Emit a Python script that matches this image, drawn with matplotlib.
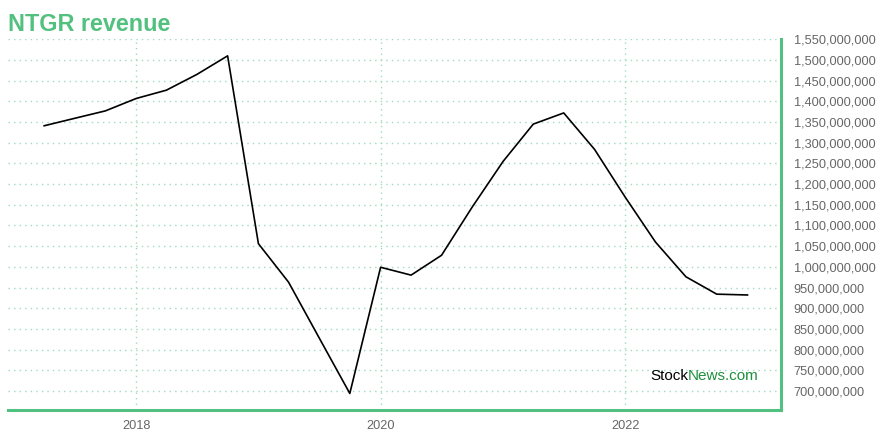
import pandas as pd
import matplotlib
matplotlib.use("Agg")
import matplotlib.pyplot as plt
import matplotlib.dates as mdates
from matplotlib.ticker import MultipleLocator, FuncFormatter

plt.rcParams["font.family"] = ["Liberation Sans", "DejaVu Sans"]

# quarterly (trailing) revenue
dates = pd.date_range("2017-04-01", periods=24, freq="QS")
revenue = [1341, 1359, 1377, 1407, 1427, 1465, 1510, 1056, 963, 829, 694, 999,
           980, 1028, 1145, 1255, 1345, 1372, 1284, 1168, 1060, 976, 934, 932]
revenue = [v * 1e6 for v in revenue]

green = "#52c07f"
grid_green = "#9fdcbb"

fig = plt.figure(figsize=(8.8, 4.4), dpi=100)
ax = fig.add_axes([8 / 880, 1 - 410 / 440, (781 - 8) / 880, (410 - 39.3) / 440])

ax.plot(dates, revenue, color="black", linewidth=1.2)

ax.set_xlim(pd.Timestamp("2016-12-14"), pd.Timestamp("2023-04-11"))
ax.set_ylim(654e6, 1550e6)

ax.xaxis.set_major_locator(mdates.YearLocator(2))
ax.xaxis.set_major_formatter(mdates.DateFormatter("%Y"))
ax.yaxis.set_major_locator(MultipleLocator(50e6))
ax.yaxis.set_major_formatter(FuncFormatter(lambda v, p: f"{v:,.0f}"))
ax.yaxis.tick_right()

ax.tick_params(axis="both", length=0, labelsize=9.2, labelcolor="#666666")
ax.tick_params(axis="y", pad=9)
ax.tick_params(axis="x", pad=7)

ax.grid(True, color=grid_green, linestyle=(0, (1, 3)), linewidth=1)

for s in ["left", "top"]:
    ax.spines[s].set_visible(False)
for s in ["bottom", "right"]:
    ax.spines[s].set_color(green)
    ax.spines[s].set_linewidth(2.2)

fig.text(8 / 880, 1 - 31 / 440, "NTGR revenue", color=green, fontsize=16.8,
         fontweight="bold", va="baseline", ha="left")

# watermark
fig.canvas.draw()
t1 = fig.text(650 / 880, 1 - 380 / 440, "Stock", color="black", fontsize=11,
              va="baseline", ha="left")
fig.canvas.draw()
bb = t1.get_window_extent()
fig.text(bb.x1 / 880, 1 - 380 / 440, "News.com", color="#1e8f3e", fontsize=11,
         va="baseline", ha="left")

fig.savefig("out.png", dpi=100)
